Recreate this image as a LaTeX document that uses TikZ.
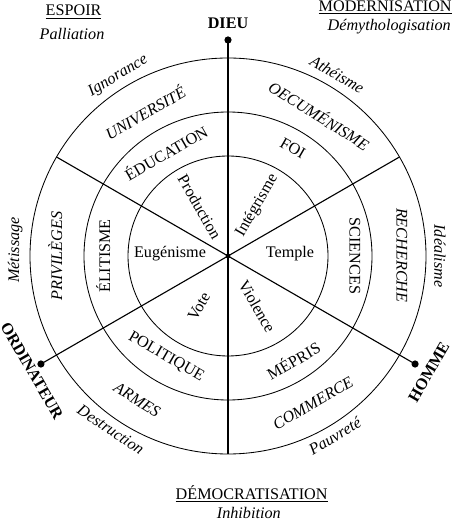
\documentclass[tikz,border=0pt]{standalone}
\usepackage{fontspec}
\setmainfont{Liberation Serif}
\begin{document}
\begin{tikzpicture}[font=\fontsize{11.5}{13}\selectfont,
  endpt/.style={circle,fill,inner sep=0pt,minimum size=0.18cm},
  spoke/.style={line width=0.8pt},
  itl/.style={font=\fontsize{11.5}{13}\selectfont\itshape},
  bold/.style={font=\fontsize{11.5}{13}\selectfont\bfseries}]
  \useasboundingbox (-5.7,-6.6) rectangle (5.7,6.4);
  \coordinate (c) at (0,0);
  \foreach \r in {2.5,3.6,4.95} \draw[line width=0.6pt] (c) circle (\r);
  % spokes and their end points
  \node[endpt] (dieu) at (90:5.4) {};
  \node[endpt] (homme) at (-30:5.4) {};
  \node[endpt] (ordi) at (210:5.4) {};
  \coordinate (s) at (270:4.95);
  \coordinate (ne) at (30:4.95);
  \coordinate (nw) at (150:4.95);
  \draw[spoke,line width=1.2pt] (dieu.center) -- (s);
  \draw[spoke] (ne) -- (ordi.center);
  \draw[spoke] (nw) -- (homme.center);
  \node[circle,fill,inner sep=0pt,minimum size=0.12cm] (mid) at (c) {};
  \node[bold] (dieutxt) at (0,5.83) {DIEU};
  \node[bold,rotate=60] (hommetxt) at (-30:5.8) {HOMME};
  \node[bold,rotate=-60] (orditxt) at (-4.9,-2.87) {ORDINATEUR};
  % inner circle
  \node[rotate=-60] (prod) at (120:1.42) {Production};
  \node[rotate=60] (integ) at (60:1.45) {Intégrisme};
  \node (temple) at (1.55,0.07) {Temple};
  \node (eugen) at (-1.45,0.05) {Eugénisme};
  \node[rotate=60] (vote) at (240:1.45) {Vote};
  \node[rotate=-60] (viol) at (300:1.45) {Violence};
  % middle ring
  \node[rotate=30] (educ) at (121:3.02) {ÉDUCATION};
  \node[rotate=-30] (foi) at (59:3.15) {FOI};
  \node[rotate=-90] (sci) at (3.17,0) {SCIENCES};
  \node[rotate=90] (elit) at (-3.12,0) {ÉLITISME};
  \node[rotate=-30] (polit) at (238.5:2.96) {POLITIQUE};
  \node[rotate=30] (mepris) at (302:3.07) {MÉPRIS};
  % outer ring
  \node[itl,rotate=30] (univ) at (120:4.15) {UNIVERSITÉ};
  \node[itl,rotate=-32] (oecum) at (57:4.2) {OECUMÉNISME};
  \node[itl,rotate=-90] (rech) at (4.35,0.02) {RECHERCHE};
  \node[itl,rotate=90] (priv) at (-4.32,0) {PRIVILÈGES};
  \node[itl,rotate=-32] (armes) at (237.7:4.25) {ARMES};
  \node[itl,rotate=30] (comm) at (300:4.25) {COMMERCE};
  % outside
  \node[itl,rotate=31] (ignor) at (121.4:5.27) {Ignorance};
  \node[itl,rotate=-30] (athe) at (59:5.3) {Athéisme};
  \node[itl,rotate=-90] (ideal) at (5.3,0) {Idéalisme};
  \node[itl,rotate=90] (metis) at (-5.32,0.15) {Métissage};
  \node[itl,rotate=-34] (destr) at (236:5.24) {Destruction};
  \node[itl,rotate=31] (pauv) at (300.7:5.23) {Pauvreté};
  % corners
  \node (espoir) at (-3.86,6.1) {\underline{ESPOIR}};
  \node[itl] (palli) at (-3.9,5.55) {Palliation};
  \node (modern) at (3.93,6.22) {\underline{MODERNISATION}};
  \node[itl] (demyth) at (4.03,5.73) {Démythologisation};
  \node (democ) at (0.59,-5.95) {\underline{DÉMOCRATISATION}};
  \node[itl] (inhib) at (0.52,-6.42) {Inhibition};
\end{tikzpicture}
\end{document}
